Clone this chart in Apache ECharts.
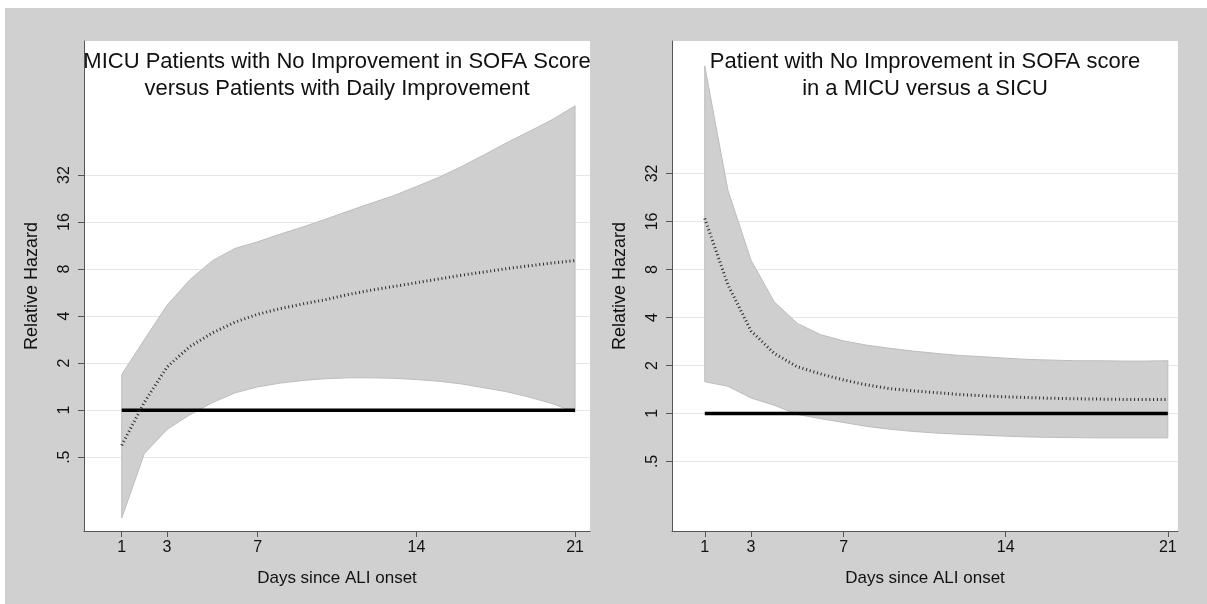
<!DOCTYPE html>
<html><head><meta charset="utf-8">
<script src="https://cdn.jsdelivr.net/npm/echarts@6/dist/echarts.min.js"></script>
<style>
html,body{margin:0;padding:0;background:#fff;}
#bg{position:absolute;left:5px;top:8px;width:1202px;height:596px;background:#d0d0d0;}
#chart{position:absolute;left:0;top:0;width:1207px;height:604px;}
</style></head><body><div id="bg"></div><div id="chart"></div>
<script>
// ---- data ----
const days = [1,2,3,4,5,6,7,8,9,10,11,12,13,14,15,16,17,18,19,20,21];
const xTicks = [1,3,7,14,21];
const yTicks = [0.5,1,2,4,8,16,32];
const yTickLabels = ['.5','1','2','4','8','16','32'];
const refDays = [1,21];
const refHazard = [1,1];

const leftTitle = ['MICU Patients with No Improvement in SOFA Score','versus Patients with Daily Improvement'];
const rightTitle = ['Patient with No Improvement in SOFA score','in a MICU versus a SICU'];
const xTitle = 'Days since ALI onset';
const yTitle = 'Relative Hazard';

const leftMid   = [0.596,1.125,1.89,2.55,3.12,3.66,4.11,4.47,4.79,5.10,5.50,5.86,6.19,6.54,6.92,7.31,7.67,8.06,8.40,8.75,9.06];
const leftLower = [0.204,0.528,0.753,0.933,1.117,1.29,1.41,1.49,1.55,1.59,1.61,1.61,1.60,1.57,1.53,1.47,1.39,1.31,1.21,1.10,0.97];
const leftUpper = [1.69,2.83,4.69,6.82,9.06,10.85,11.96,13.4,14.9,16.7,18.8,21.1,23.6,27.0,31.0,36.3,43.2,51.6,61.0,72.5,88.6];

const rightMid   = [16.7,6.41,3.29,2.38,1.96,1.77,1.62,1.51,1.43,1.385,1.35,1.315,1.29,1.27,1.257,1.244,1.236,1.23,1.225,1.222,1.222];
const rightLower = [1.58,1.48,1.25,1.125,0.986,0.927,0.877,0.829,0.796,0.771,0.753,0.74,0.73,0.72,0.712,0.707,0.705,0.702,0.702,0.702,0.702];
const rightUpper = [151.2,25.1,9.13,5.01,3.67,3.12,2.85,2.68,2.56,2.46,2.38,2.31,2.27,2.22,2.18,2.16,2.14,2.14,2.13,2.13,2.14];

// ---- chart ----
const FONT = 'Liberation Sans, Arial, Helvetica, sans-serif';
const L2 = v => Math.log2(v);
const yTickPos = yTicks.map(L2);

function yLabel(v){
  const i = yTickPos.findIndex(t => Math.abs(t - v) < 1e-6);
  return i >= 0 ? yTickLabels[i] : '';
}

const panels = [
  {grid:{left:84, top:41, width:506, height:490}, xr:[-0.665,21.66], yr:[-2.57,7.85], mid:leftMid, lo:leftLower, hi:leftUpper, title:leftTitle},
  {grid:{left:672, top:41, width:506, height:490}, xr:[-0.415,21.44], yr:[-2.45,7.76], mid:rightMid, lo:rightLower, hi:rightUpper, title:rightTitle}
];

const option = {
  animation:false,
  backgroundColor:'transparent',
  textStyle:{fontFamily:FONT},
  grid:[], xAxis:[], yAxis:[], series:[], graphic:[]
};

panels.forEach((p, k) => {
  option.grid.push(Object.assign({show:true, backgroundColor:'#ffffff', borderWidth:0}, p.grid));
  option.xAxis.push({
    type:'value', gridIndex:k, min:p.xr[0], max:p.xr[1],
    name:xTitle, nameLocation:'middle', nameGap:39,
    nameTextStyle:{fontFamily:FONT, fontSize:17, color:'#111'},
    axisLine:{show:true, onZero:false, lineStyle:{color:'#555', width:1}},
    axisTick:{show:true, length:6, customValues:xTicks, lineStyle:{color:'#555'}},
    axisLabel:{customValues:xTicks, margin:9, fontFamily:FONT, fontSize:16, color:'#111'},
    splitLine:{show:false}
  });
  option.yAxis.push({
    type:'value', gridIndex:k, min:p.yr[0], max:p.yr[1],
    name:yTitle, nameLocation:'middle', nameGap:43, nameRotate:90,
    nameTextStyle:{fontFamily:FONT, fontSize:18, color:'#111'},
    axisLine:{show:true, onZero:false, lineStyle:{color:'#555', width:1}},
    axisTick:{show:true, length:6, customValues:yTickPos, lineStyle:{color:'#555'}},
    axisLabel:{customValues:yTickPos, rotate:90, margin:11, fontFamily:FONT, fontSize:16, color:'#111', formatter:yLabel},
    splitLine:{show:true, lineStyle:{color:'#e6e6e6', width:1}}
  });
  const hi = p.hi, lo = p.lo;
  option.series.push({
    type:'custom', xAxisIndex:k, yAxisIndex:k, z:2, silent:true,
    data:[[days[0], L2(lo[0])]],
    encode:{x:0, y:1},
    renderItem:function(params, api){
      const pts = [];
      for (let i = 0; i < days.length; i++) pts.push(api.coord([days[i], L2(hi[i])]));
      for (let i = days.length - 1; i >= 0; i--) pts.push(api.coord([days[i], L2(lo[i])]));
      return {type:'polygon', shape:{points:pts}, style:{fill:'#cfcfcf', stroke:'#bdbdbd', lineWidth:1}};
    }
  });
  option.series.push({
    type:'line', xAxisIndex:k, yAxisIndex:k, symbol:'none',
    data: refDays.map((d,i) => [d, L2(refHazard[i])]),
    lineStyle:{color:'#000', width:3.5}, z:3
  });
  option.series.push({
    type:'line', xAxisIndex:k, yAxisIndex:k, symbol:'none', smooth:false,
    data: days.map((d,i) => [d, L2(p.mid[i])]),
    lineStyle:{color:'#2a2a2a', width:3, type:[1,2.8], cap:'butt'}, z:4
  });
  const cx = p.grid.left + p.grid.width/2;
  p.title.forEach((t, j) => {
    option.graphic.push({
      type:'text', x:cx, y:61.5 + j*27, silent:true, z:100,
      style:{text:t, fontFamily:FONT, fontSize:22, fill:'#111', textAlign:'center', textVerticalAlign:'middle'}
    });
  });
});

const chart = echarts.init(document.getElementById('chart'), null, {renderer:'canvas'});
chart.setOption(option);
</script></body></html>
